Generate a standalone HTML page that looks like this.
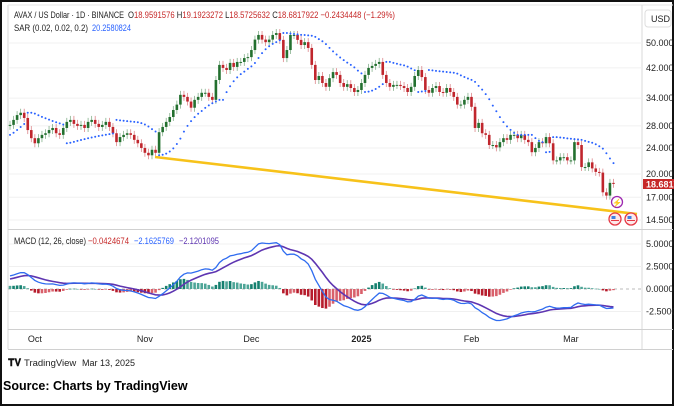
<!DOCTYPE html>
<html><head><meta charset="utf-8"><style>
html,body{margin:0;padding:0;background:#fff}
svg{display:block}
text{font-family:"Liberation Sans",sans-serif}
</style></head><body>
<svg id="chart" width="674" height="406" viewBox="0 0 674 406">
<rect x="0" y="0" width="674" height="406" fill="#fff"/>
<rect x="1" y="1" width="672" height="404" fill="none" stroke="#111" stroke-width="2"/>
<line x1="8" y1="5" x2="8" y2="349" stroke="#d9d9d9"/>
<line x1="8" y1="5" x2="673" y2="5" stroke="#e6e6e6"/>
<line x1="642" y1="5" x2="642" y2="349" stroke="#d9d9d9"/>
<line x1="8" y1="229.5" x2="673" y2="229.5" stroke="#d0d0d0"/>
<line x1="8" y1="329.5" x2="673" y2="329.5" stroke="#d0d0d0"/>
<line x1="8" y1="349.5" x2="673" y2="349.5" stroke="#d0d0d0"/>
<g id="grid"></g>
<defs>
<clipPath id="cp"><rect x="8" y="6" width="634" height="223"/></clipPath>
<clipPath id="cm"><rect x="8" y="230" width="634" height="99"/></clipPath>
</defs>
<g id="price" clip-path="url(#cp)"></g>
<g id="macd" clip-path="url(#cm)"></g>
<g id="axes"></g>
<line x1="155" y1="157" x2="637" y2="214" stroke="#f7c21a" stroke-width="2.6"/>
<g>
<circle cx="617" cy="202" r="5.5" fill="#fff" stroke="#9c27b0" stroke-width="1.3"/>
<text x="617" y="205.5" font-size="8" fill="#9c27b0" text-anchor="middle">⚡</text>
<circle cx="615" cy="219" r="6" fill="#fde8ea" stroke="#e53945" stroke-width="1.3"/>
<rect x="611.5" y="216" width="4" height="3" fill="#3f7fe0"/>
<line x1="611" y1="220.5" x2="619" y2="220.5" stroke="#e53945" stroke-width="1"/>
<circle cx="631" cy="219" r="6" fill="#fde8ea" stroke="#e53945" stroke-width="1.3"/>
<rect x="627.5" y="216" width="4" height="3" fill="#3f7fe0"/>
<line x1="627" y1="220.5" x2="635" y2="220.5" stroke="#e53945" stroke-width="1"/>
</g>
<g>
<text x="14" y="18" font-size="9.5" fill="#222" textLength="110" lengthAdjust="spacingAndGlyphs">AVAX / US Dollar · 1D · BINANCE</text>
<text x="128" y="18" font-size="9.5" fill="#c62828" textLength="267" lengthAdjust="spacingAndGlyphs"><tspan fill="#222">O</tspan>18.9591576 <tspan fill="#222">H</tspan>19.1923272 <tspan fill="#222">L</tspan>18.5725632 <tspan fill="#222">C</tspan>18.6817922 −0.2434448 (−1.29%)</text>
<text x="14" y="31" font-size="9.5" fill="#222" textLength="74" lengthAdjust="spacingAndGlyphs">SAR (0.02, 0.02, 0.2)</text>
<text x="92" y="31" font-size="9.5" fill="#2962ff" textLength="39" lengthAdjust="spacingAndGlyphs">20.2580824</text>
<text x="14" y="244" font-size="9.5" fill="#222" textLength="72" lengthAdjust="spacingAndGlyphs">MACD (12, 26, close)</text>
<text x="88" y="244" font-size="9.5" fill="#c62828" textLength="41" lengthAdjust="spacingAndGlyphs">−0.0424674</text>
<text x="134" y="244" font-size="9.5" fill="#2962ff" textLength="40" lengthAdjust="spacingAndGlyphs">−2.1625769</text>
<text x="179" y="244" font-size="9.5" fill="#5e35b1" textLength="40" lengthAdjust="spacingAndGlyphs">−2.1201095</text>
</g>
<rect x="645" y="10" width="26" height="17" rx="3" fill="#fff" stroke="#ddd"/>
<text x="651" y="22" font-size="9" fill="#222">USD</text>
<rect x="643" y="179" width="31" height="10" fill="#c62828"/>
<text x="646" y="187.5" font-size="9" fill="#fff" font-weight="bold">18.6817</text>
<g>
<text x="8" y="366" font-size="10" font-weight="bold" fill="#111">𝐓𝐕</text>
<text x="24" y="366" font-size="9.5" fill="#222">TradingView</text>
<text x="82" y="366" font-size="9" fill="#222">Mar 13, 2025</text>
<text x="3" y="390" font-size="12.5" font-weight="bold" fill="#000">Source: Charts by TradingView</text>
</g>
</svg>
<script>
const warmupCloses=[21.0,21.5,22.3,23.1,24.0,24.6,24.2,25.5,26.1,25.0,24.3,23.8,23.9,22.8,22.0,21.6,21.9,21.4,20.8,21.2,22.0,22.5,22.9,23.2,23.6,23.1,22.9,23.7,24.4,25.3,25.9,25.6,26.8,27.5,26.9,27.8,28.3,28.0];
const closes=[28.2,29.2,30.2,30.7,29.6,27.2,25.7,24.8,25.7,26.3,26.6,27.2,27.6,26.6,26.3,27.6,28.8,29.2,28.4,28.0,
28.2,27.6,28.8,29.2,28.4,27.8,28.2,28.8,27.8,26.6,25.0,25.9,26.3,26.6,26.3,25.4,24.8,24.0,23.2,22.8,
23.7,23.2,26.8,27.8,28.8,29.8,31.3,32.5,34.8,34.3,33.2,31.8,33.6,34.3,35.3,35.3,34.3,33.6,38.6,42.9,
42.0,41.4,43.5,42.3,43.8,43.8,45.0,45.3,47.6,51.2,52.9,51.2,50.3,51.2,52.9,53.6,51.1,45.0,47.6,52.9,
52.9,51.1,49.3,50.3,48.3,42.9,38.6,39.7,37.8,36.8,39.1,40.8,40.0,37.8,36.8,37.5,36.5,35.5,36.0,37.8,
40.0,42.0,42.6,43.2,43.8,40.0,37.8,36.8,37.3,37.3,37.0,36.5,35.5,36.8,39.7,41.4,39.4,36.0,35.3,36.5,
37.0,35.5,35.3,36.5,35.5,34.3,32.5,32.5,33.6,34.3,32.0,27.6,28.6,26.6,26.3,24.5,24.5,24.1,25.0,25.7,
25.4,26.3,26.3,25.7,26.3,25.4,25.0,23.3,24.0,25.0,24.8,25.9,24.8,22.0,22.0,22.5,22.5,22.0,22.0,25.0,
24.5,21.0,21.0,21.7,20.8,20.3,20.2,17.6,17.2,18.8,18.68];
const priceTicks=[50,42,34,28,24,20,17,14.5];
const macdTicks=[5,2.5,0,-2.5];
const monthLabels=["Oct","Nov","Dec","2025","Feb","Mar"];
const monthIndex=[7,38,68,99,130,158];

const NS="http://www.w3.org/2000/svg";
function mk(tag,attrs,parent){const e=document.createElementNS(NS,tag);for(const k in attrs)e.setAttribute(k,attrs[k]);parent.appendChild(e);return e;}
const xAt=i=>10+i*3.55;
const yP=p=>43+(Math.log(50)-Math.log(p))*143;
const yM=v=>289-v*9.0;

const grid=document.getElementById('grid'),axes=document.getElementById('axes');
priceTicks.forEach(t=>{
  const l=mk('line',{x1:8,x2:642,y1:yP(t),y2:yP(t),stroke:'#f0f0f0'},grid);
  
  
  const tx=mk('text',{x:646,y:yP(t)+3,'font-size':9,fill:'#222'},axes);
  tx.textContent=t.toFixed(4);
  
  
});
macdTicks.forEach(t=>{
  const l=mk('line',{x1:8,x2:642,y1:yM(t),y2:yM(t),stroke:t===0?'#bbb':'#f0f0f0','stroke-dasharray':t===0?'3,3':'none'},grid);
  
  
  const tx=mk('text',{x:646,y:yM(t)+3,'font-size':9,fill:'#222'},axes);
  tx.textContent=(t<0?'-':'')+Math.abs(t).toFixed(4);
  
  
});
monthLabels.forEach((m,k)=>{
  const tx=mk('text',{x:xAt(monthIndex[k]),y:342,'font-size':9,fill:'#222','text-anchor':'middle','font-weight':m==='2025'?'bold':'normal'},axes);
  tx.textContent=m;
  
  
});

const all=warmupCloses.concat(closes);
const W=warmupCloses.length;
const opens=all.map((c,i)=>i?all[i-1]:c);
const hi=all.map((c,i)=>Math.max(c,opens[i])),lo=all.map((c,i)=>Math.min(c,opens[i]));

const pg=document.getElementById('price');
closes.forEach((c,i)=>{
  const o=opens[i+W],x=xAt(i),up=c>=o;
  const col=up?'#23702f':'#c0262d';
  const y1=yP(Math.max(o,c)),y2=yP(Math.min(o,c));
  const w=mk('line',{x1:x,x2:x,y1:y1-4,y2:y2+4,stroke:col,'stroke-width':0.8,opacity:0.55},pg);
  
  
  const b=mk('rect',{x:x-1.3,y:y1,width:2.6,height:Math.max(1,y2-y1),fill:col},pg);
  
  
});

let up=true,af=0.02,ep=hi[0],sar=lo[0];const sars=[sar];
for(let i=1;i<all.length;i++){
  sar=sar+af*(ep-sar);
  if(up){
    sar=Math.min(sar,lo[i-1],lo[Math.max(0,i-2)]);
    if(lo[i]<sar){up=false;sar=ep;ep=lo[i];af=0.02;}
    else if(hi[i]>ep){ep=hi[i];af=Math.min(af+0.02,0.2);}
  }else{
    sar=Math.max(sar,hi[i-1],hi[Math.max(0,i-2)]);
    if(hi[i]>sar){up=true;sar=ep;ep=hi[i];af=0.02;}
    else if(lo[i]<ep){ep=lo[i];af=Math.min(af+0.02,0.2);}
  }
  sars.push(sar);
}
closes.forEach((c,i)=>{
  const d=mk('circle',{cx:xAt(i),cy:yP(sars[i+W]),r:1,fill:'#2962ff'},pg);
  
  
});

function ema(arr,n){const k=2/(n+1);let e=arr[0];return arr.map(v=>(e=v*k+e*(1-k)));}
const e12=ema(all,12),e26=ema(all,26);
const macd=all.map((v,i)=>e12[i]-e26[i]);
const sig=ema(macd,9);
const mg=document.getElementById('macd');
closes.forEach((c,i)=>{
  const j=i+W,h=macd[j]-sig[j],hp=macd[j-1]-sig[j-1];
  const col=h>=0?(h>=hp?'#15806f':'#4ea597'):(h<=hp?'#b71c2c':'#d9606b');
  const y=yM(h);
  const r=mk('rect',{x:xAt(i)-1.3,y:Math.min(y,289),width:2.6,height:Math.max(0.6,Math.abs(y-289)),fill:col},mg);
  
  
});
function line(arr,col,w,name){
  const d=closes.map((c,i)=>(i?'L':'M')+xAt(i).toFixed(1)+','+yM(arr[i+W]).toFixed(1)).join('');
  const p=mk('path',{d:d,fill:'none',stroke:col,'stroke-width':w},mg);
  
  
}
line(sig,'#5e35b1',1.6,'macd-signal-line');
line(macd,'#2f6cf0',1.3,'macd-line');
</script>
</body></html>
